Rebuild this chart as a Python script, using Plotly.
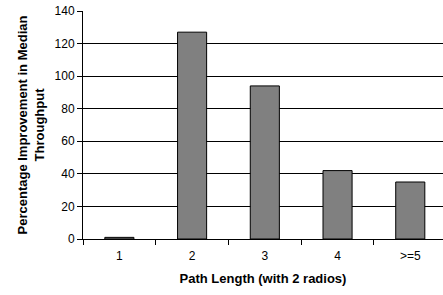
import plotly.graph_objects as go

categories = ["1", "2", "3", "4", ">=5"]
values = [1, 127, 94, 42, 35]
y_ticks = [0, 20, 40, 60, 80, 100, 120, 140]

fig = go.Figure()
fig.add_trace(go.Bar(
    x=categories, y=values, width=0.4,
    marker=dict(color="#808080", line=dict(color="#000000", width=1)),
    hoverinfo="skip",
))

font = dict(family="Liberation Sans, Arial, sans-serif", size=12, color="#000000")

fig.update_layout(
    width=443, height=295,
    margin=dict(l=83, r=0, t=11, b=56),
    paper_bgcolor="white", plot_bgcolor="white",
    showlegend=False,
    font=font,
)
fig.update_xaxes(
    type="category", range=[-0.5, 4.45], automargin=False,
    showline=True, linecolor="black", linewidth=1,
    ticks="outside", tickson="boundaries", ticklen=5, tickcolor="black",
    ticklabelstandoff=6,
    showgrid=False,
    title=dict(text="<b>Path Length (with 2 radios)</b>", font=dict(size=13), standoff=11),
)
fig.update_yaxes(
    range=[0, 140], tickvals=y_ticks, automargin=False,
    showline=True, linecolor="black", linewidth=1,
    ticks="outside", ticklen=5, tickcolor="black",
    showgrid=True, gridcolor="black", gridwidth=1,
    zeroline=False,
    title=dict(text="<b>Percentage Improvement in Median<br>Throughput</b>", font=dict(size=13), standoff=7),
)

fig.write_html(
    "out.html",
    config={"displayModeBar": False},
    post_script="document.body.style.margin='0';",
)
